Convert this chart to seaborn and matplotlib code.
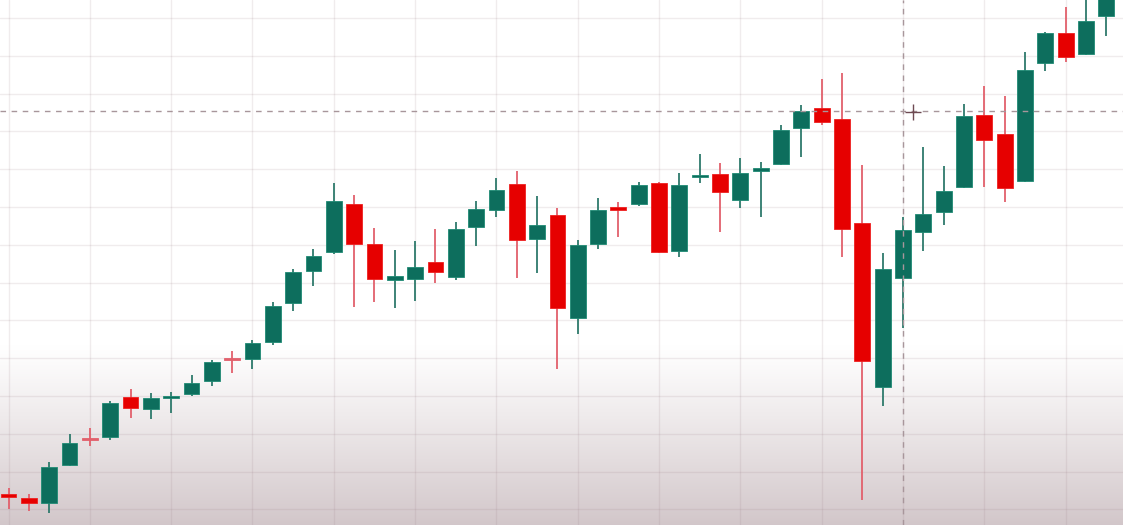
import numpy as np
import pandas as pd
import matplotlib
matplotlib.use("Agg")
import matplotlib.pyplot as plt
import seaborn as sns

# OHLC values (arbitrary price units)
opens  = [31, 27, 22, 60, 87, 88, 128, 116, 127, 131, 144, 167, 166, 183, 222, 254, 273, 321, 281, 245,
          246, 263, 248, 298, 315, 341, 286, 310, 207, 281, 318, 321, 342, 274, 348, 351, 325, 354, 361, 397,
          417, 406, 302, 138, 247, 293, 313, 338, 410, 391, 344, 462, 492, 471, 509]
highs  = [37, 31, 63, 91, 97, 124, 136, 132, 133, 150, 165, 174, 185, 223, 256, 276, 342, 330, 297, 275,
          284, 296, 303, 324, 347, 354, 329, 317, 285, 327, 323, 343, 343, 352, 371, 362, 367, 363, 400, 420,
          446, 452, 360, 272, 308, 378, 359, 421, 439, 429, 473, 493, 518, 527, 545]
lows   = [16, 14, 12, 59, 79, 85, 107, 106, 112, 129, 139, 152, 156, 180, 214, 239, 271, 218, 223, 217,
          224, 242, 245, 279, 308, 247, 252, 156, 191, 276, 288, 319, 272, 268, 342, 293, 317, 308, 360, 368,
          400, 268, 25, 119, 197, 274, 300, 337, 338, 323, 343, 454, 463, 470, 489]
closes = [28, 22, 58, 82, 85, 122, 117, 127, 129, 142, 163, 165, 182, 219, 253, 269, 324, 281, 246, 249,
          258, 253, 296, 316, 335, 285, 300, 217, 280, 315, 315, 340, 273, 340, 350, 333, 352, 357, 395, 414,
          403, 296, 164, 256, 295, 311, 334, 409, 385, 337, 455, 492, 468, 504, 531]

cursor_bar = 44
cursor_price = 414

df = pd.DataFrame({"open": opens, "high": highs, "low": lows, "close": closes})
df["up"] = df["close"] >= df["open"]

sns.set_theme(style="whitegrid")

fig = plt.figure(figsize=(11.23, 5.25), dpi=100)
ax = fig.add_axes([0, 0, 1, 1])

xmin, xmax = -0.42, 54.82
ymin, ymax = 0, 525

# faded band at the bottom of the screen
grad = np.linspace(0, 1, 256).reshape(-1, 1)
top_c = np.array([1.0, 1.0, 1.0])
bot_c = np.array([0.825, 0.78, 0.792])
img = top_c * (1 - grad[..., None] ** 1.1) + bot_c * grad[..., None] ** 1.1
ax.imshow(img, extent=[xmin, xmax, 0, 180], aspect="auto", zorder=0, origin="upper")

green = "#0d6e5d"
red = "#e60000"
green_wick = "#2e7a6c"
red_wick = "#e2606c"

x = np.arange(len(df))
diff = (df["open"] - df["close"]).abs()
body_lo = np.minimum(df["open"], df["close"])
body_h = np.maximum(diff, 2.5)
# tiny red bodies show up as thin light crosses
thin_red = (~df["up"]) & (diff <= 2)
body_col = np.where(df["up"], green, np.where(thin_red, red_wick, red))
edge_col = np.where(df["up"], "#1f8a74", np.where(thin_red, red_wick, "#ee2020"))
body_h = np.where(thin_red, 1.6, body_h)
wick_col = np.where(df["up"], green_wick, red_wick)

ax.vlines(x, df["low"], df["high"], colors=wick_col, linewidth=1.3, zorder=2)
ax.bar(x, body_h, bottom=body_lo, width=0.78, color=body_col,
       edgecolor=edge_col, linewidth=0.6, zorder=3)

# crosshair
ax.axhline(cursor_price, color="#a8969b", linestyle=(0, (4, 4)), linewidth=1.0, zorder=4)
ax.axvline(cursor_bar, color="#a8969b", linestyle=(0, (4, 4)), linewidth=1.0, zorder=4)
ax.plot(cursor_bar + 0.5, cursor_price - 1, marker="+", markersize=11, color="#6e4a52",
        markeredgewidth=1.0, zorder=5)

ax.set_xlim(xmin, xmax)
ax.set_ylim(ymin, ymax)
ax.set_xticks(np.arange(0, 55, 4))
ax.set_yticks(507 - 37.8 * np.arange(14))
ax.grid(True, color="#9c8088", alpha=0.15, linewidth=1.0)
ax.set_axisbelow(True)
ax.tick_params(length=0, labelbottom=False, labelleft=False)
for s in ax.spines.values():
    s.set_visible(False)
ax.set_facecolor("white")

fig.savefig("out.png", dpi=100)
